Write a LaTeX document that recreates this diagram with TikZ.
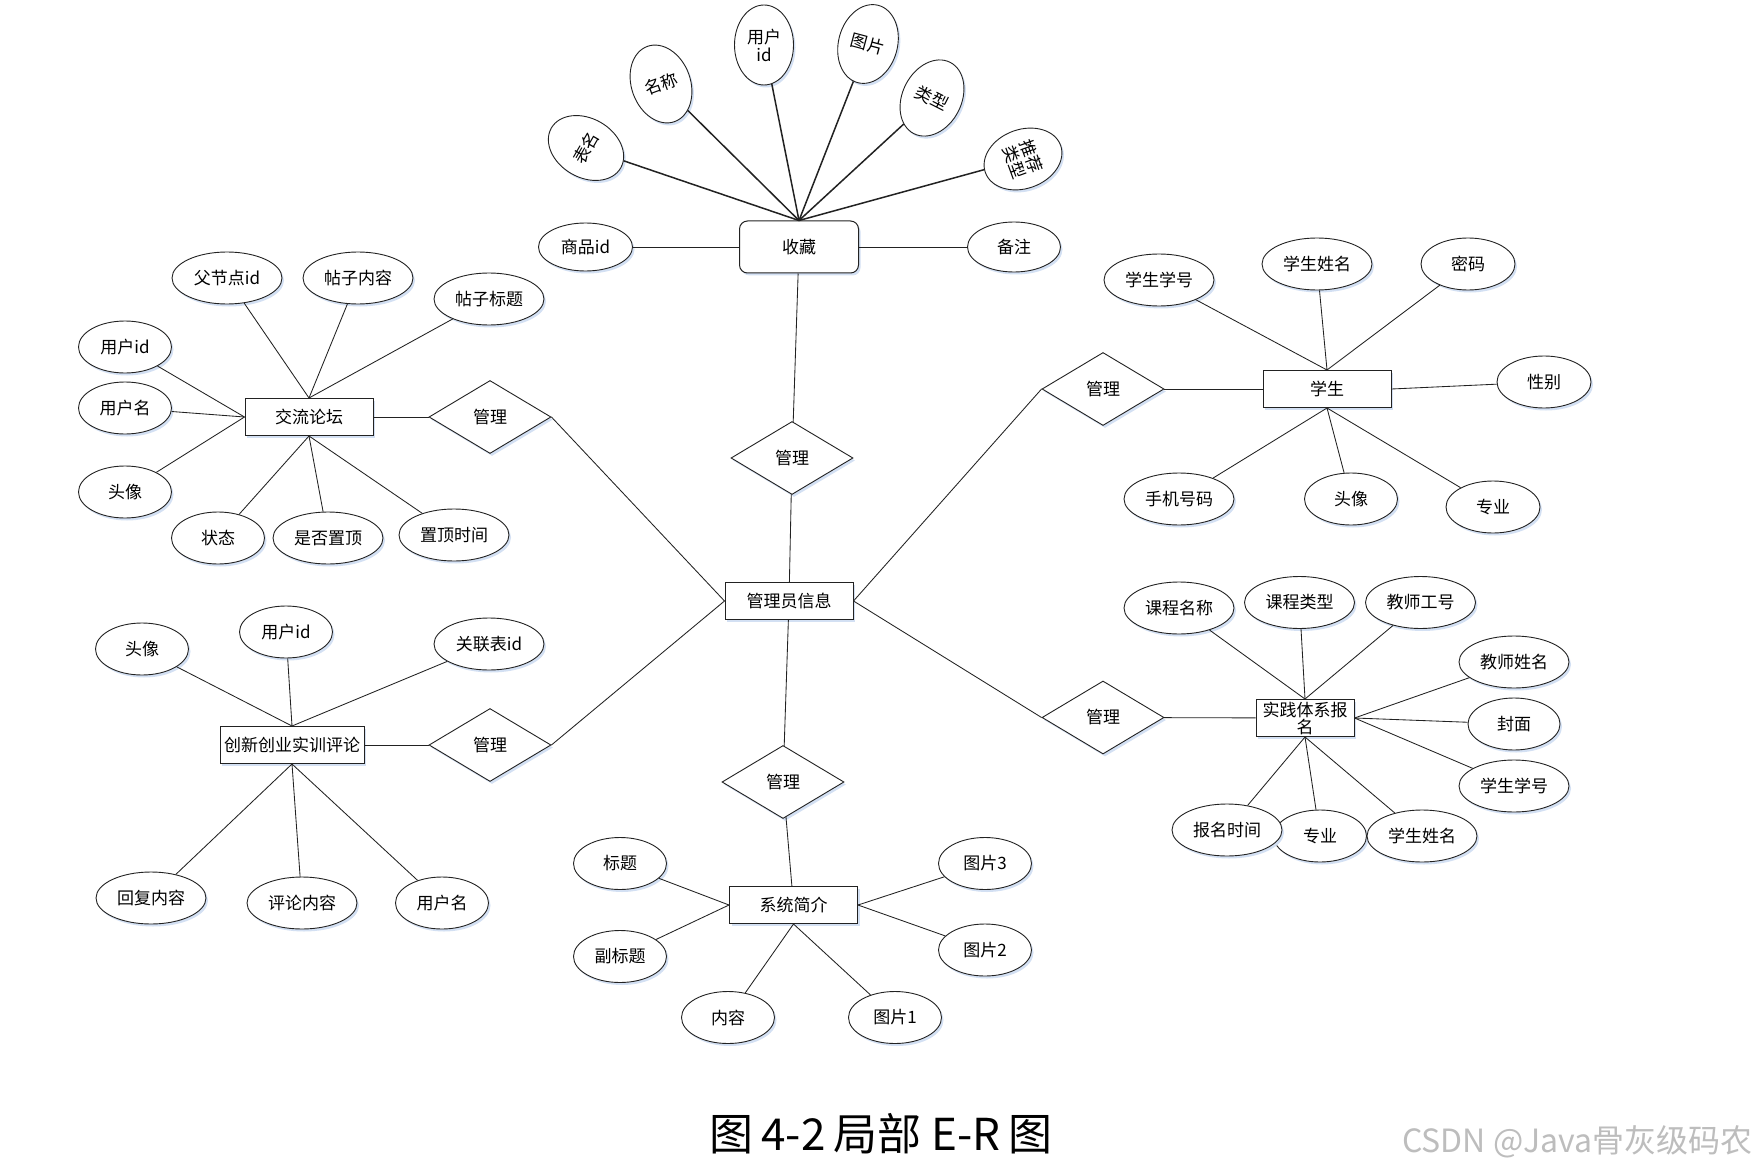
\documentclass[tikz,border=0pt]{standalone}
\usepackage{fontspec}
\setmainfont{Noto Sans CJK SC}
\usetikzlibrary{shapes.geometric,shadows}
\definecolor{ink}{HTML}{222222}
\definecolor{halo}{HTML}{D3E0F3}
\definecolor{mark}{HTML}{BDBDBD}
\tikzset{
  softshadow/.style={drop shadow={shadow xshift=2pt,shadow yshift=-2.5pt,fill=halo,opacity=1}},
  entity/.style={draw=ink,fill=white,line width=1pt,minimum width=128pt,minimum height=37pt,
    inner sep=0pt,align=center,font=\fontsize{17pt}{17pt}\selectfont,softshadow},
  attr/.style={ellipse,draw=ink,fill=white,line width=.9pt,minimum width=93pt,minimum height=52pt,
    inner sep=0pt,align=center,font=\fontsize{17pt}{18pt}\selectfont,softshadow},
  fanattr/.style={attr,minimum width=59pt,minimum height=80pt},
  rel/.style={diamond,draw=ink,fill=white,line width=.9pt,minimum width=122pt,minimum height=73pt,
    inner sep=0pt,font=\fontsize{17pt}{17pt}\selectfont,softshadow},
  link/.style={draw=ink,line width=.85pt},
  fanlink/.style={draw=ink,line width=1.5pt},
}

\begin{document}
\begin{tikzpicture}[x=1pt,y=-1pt]
  \fill[white] (0,0) rectangle (1758,1174);
  \useasboundingbox (0,0) rectangle (1758,1174);

  % Centre: administrator and its relations.
  \node[entity] (admin) at (789,601) {管理员信息};
  \node[rel] (relfav) at (792,458) {管理};
  \node[rel] (relforum) at (490,417) {管理};
  \node[rel] (relcomment) at (490,745) {管理};
  \node[rel] (relstu) at (1103,389) {管理};
  \node[rel] (relprac) at (1103,717.5) {管理};
  \node[rel] (relintro) at (783,782) {管理};

  % Favourites, with a fan of attributes above it.
  \node[entity,rounded corners=8pt,minimum width=119pt,minimum height=52pt] (fav) at (799,247) {收藏};
  \node[attr,minimum width=94pt,minimum height=48pt] (gid) at (585.5,247) {商品id};
  \node[attr,minimum width=93pt,minimum height=50pt] (note) at (1014,247) {备注};
  \draw[link] (gid) -- (fav);
  \draw[link] (fav) -- (note);
  \foreach \n/\x/\y/\rot/\txt in {
    tbl/586/148/60/表名,name/661/84/20/名称,uid/764/45/0/用户\\id,
    pic/868/44/-15/图片,kind/932/98/-27/类型,rec/1023/159/-70/推荐\\类型}
  {\node[fanattr,rotate=\rot] (\n) at (\x,\y) {\txt};
   \draw[fanlink] (\n) -- (fav.north);}

  % Forum.
  \node[entity] (forum) at (309,417) {交流论坛};
  \foreach \n/\x/\y/\w/\a/\txt in {
    fpid/227/278/110/north/父节点id,fbody/358/278/110/north/帖子内容,
    ftitle/489/299/110/north/帖子标题,fuid/125/347/93/west/用户id,
    funame/125/408/93/west/用户名,favatar/125/492/93/west/头像,
    fstate/218/538/93/south/状态,ftop/328/538/110/south/是否置顶,
    ftoptime/454/535/110/south/置顶时间}
  {\node[attr,minimum width=\w pt] (\n) at (\x,\y) {\txt};
   \draw[link] (\n) -- (forum.\a);}

  % Training comments.
  \node[entity,minimum width=144pt] (comment) at (292,745) {创新创业实训评论};
  \foreach \n/\x/\y/\w/\a/\txt in {
    cavatar/142/649/93/north/头像,cuid/286/632/93/north/用户id,
    crel/489/644/110/north/关联表id,creply/151/898/110/south/回复内容,
    cbody/302/903/110/south/评论内容,cuname/442/903/93/south/用户名}
  {\node[attr,minimum width=\w pt] (\n) at (\x,\y) {\txt};
   \draw[link] (\n) -- (comment.\a);}

  % Student.
  \node[entity] (stu) at (1327,389) {学生};
  \foreach \n/\x/\y/\w/\a/\txt in {
    sno/1159/280/110/north/学生学号,sname/1317/264/110/north/学生姓名,
    spwd/1468/264/94/north/密码,ssex/1544/382/94/east/性别,
    sphone/1179/499/110/south/手机号码,savatar/1351/499/93/south/头像,
    smajor/1493/507/94/south/专业}
  {\node[attr,minimum width=\w pt] (\n) at (\x,\y) {\txt};
   \draw[link] (\n) -- (stu.\a);}

  % Practice enrolment.
  \node[entity,minimum width=98pt] (prac) at (1305,718) {实践体系报\\名};
  \foreach \n/\x/\y/\w/\a/\txt in {
    pcname/1179/608/110/north/课程名称,pctype/1299.5/602.5/110/north/课程类型,
    ptno/1420.5/602.5/110/north/教师工号,ptname/1514/662/110/east/教师姓名,
    pcover/1514/724/92/east/封面,psno/1514/786/110/east/学生学号,
    pmajor/1320/836/93/south/专业,ptime/1227/830/110/south/报名时间,
    psname/1422/836/110/south/学生姓名}
  {\node[attr,minimum width=\w pt] (\n) at (\x,\y) {\txt};
   \draw[link] (\n) -- (prac.\a);}

  % System introduction.
  \node[entity] (intro) at (793.5,905) {系统简介};
  \foreach \n/\x/\y/\a/\txt in {
    ititle/620/863.5/west/标题,isub/620/956.5/west/副标题,
    ibody/728/1017.5/south/内容,ipic1/895/1017.5/south/图片1,
    ipic3/985/863.5/east/图片3,ipic2/985/950/east/图片2}
  {\node[attr] (\n) at (\x,\y) {\txt};
   \draw[link] (\n) -- (intro.\a);}

  % Relation links.
  \draw[link] (fav) -- (relfav) -- (admin);
  \draw[link] (forum) -- (relforum);
  \draw[link] (relforum.east) -- (admin.west);
  \draw[link] (comment) -- (relcomment);
  \draw[link] (relcomment.east) -- (admin.west);
  \draw[link] (admin.east) -- (relstu.west);
  \draw[link] (relstu) -- (stu);
  \draw[link] (admin.east) -- (relprac.west);
  \draw[link] (relprac) -- (prac);
  \draw[link] (admin) -- (relintro) -- (intro);

  % Caption and watermark.
  \node[font=\fontsize{44pt}{48pt}\selectfont,text=black] (caption) at (881,1134)
    {图\hspace{8pt}4-2\hspace{8pt}局部 E-R\hspace{8pt}图};
  \node[anchor=east,font=\fontsize{32pt}{34pt}\selectfont,text=mark] (mark) at (1756,1142)
    {CSDN @Java骨灰级码农};
\end{tikzpicture}
\end{document}
